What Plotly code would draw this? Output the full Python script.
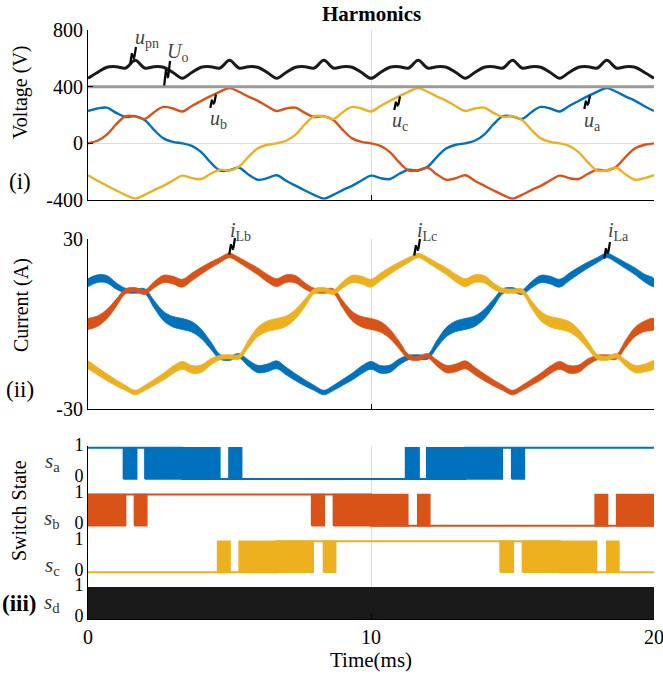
import plotly.graph_objects as go

# ---------------- data ----------------
T = [0, 0.333, 0.667, 1, 1.333, 1.667, 2, 2.333, 2.667, 3, 3.333, 3.667, 4, 4.333, 4.667,
     5, 5.333, 5.667, 6, 6.333, 6.667, 7, 7.333, 7.667, 8, 8.333, 8.667, 9, 9.333, 9.667,
     10, 10.333, 10.667, 11, 11.333, 11.667, 12, 12.333, 12.667, 13, 13.333, 13.667, 14, 14.333, 14.667,
     15, 15.333, 15.667, 16, 16.333, 16.667, 17, 17.333, 17.667, 18, 18.333, 18.667, 19, 19.333, 19.667, 20]

UA = [228, 246, 252, 215, 186, 192, 165, 95, 35, 10,
      0, -18, -62, -135, -192, -190, -172, -220, -257, -246,
      -225, -264, -299, -333, -365, -390, -364, -330, -300, -262,
      -228, -246, -252, -215, -186, -192, -165, -95, -35, -10,
      0, 18, 62, 135, 192, 190, 172, 220, 257, 246,
      225, 264, 299, 333, 365, 390, 364, 330, 300, 262, 228]
UB = [0, 18, 62, 135, 192, 190, 172, 220, 257, 246,
      225, 264, 299, 333, 365, 390, 364, 330, 300, 262,
      228, 246, 252, 215, 186, 192, 165, 95, 35, 10,
      0, -18, -62, -135, -192, -190, -172, -220, -257, -246,
      -225, -264, -299, -333, -365, -390, -364, -330, -300, -262,
      -228, -246, -252, -215, -186, -192, -165, -95, -35, -10, 0]
UC = [-225, -264, -299, -333, -365, -390, -364, -330, -300, -262,
      -228, -246, -252, -215, -186, -192, -165, -95, -35, -10,
      0, 18, 62, 135, 192, 190, 172, 220, 257, 246,
      225, 264, 299, 333, 365, 390, 364, 330, 300, 262,
      228, 246, 252, 215, 186, 192, 165, 95, 35, 10,
      0, -18, -62, -135, -192, -190, -172, -220, -257, -246, -225]
UPN = [459, 500, 537, 541, 532, 586, 532, 541, 537, 500,
       459, 500, 537, 541, 532, 586, 532, 541, 537, 500,
       459, 500, 537, 541, 532, 586, 532, 541, 537, 500,
       459, 500, 537, 541, 532, 586, 532, 541, 537, 500,
       459, 500, 537, 541, 532, 586, 532, 541, 537, 500,
       459, 500, 537, 541, 532, 586, 532, 541, 537, 500, 459]
UO_T = [0, 20]
UO = [400, 400]

IA = [14.6, 16.0, 15.8, 13.4, 11.8, 11.6, 11.6, 7.0, 2.8, 0.8,
      0, -1.0, -3.5, -7.5, -11.6, -12.1, -11.2, -13.8, -15.9, -15.5,
      -14.4, -16.6, -18.8, -20.8, -22.6, -24.2, -22.6, -20.6, -18.6, -16.2,
      -14.6, -16.0, -15.8, -13.4, -11.8, -11.6, -11.6, -7.0, -2.8, -0.8,
      0, 1.0, 3.5, 7.5, 11.6, 12.1, 11.2, 13.8, 15.9, 15.5,
      14.4, 16.6, 18.8, 20.8, 22.6, 24.2, 22.6, 20.6, 18.6, 16.2, 14.6]
IB = [0, 1.0, 3.5, 7.5, 11.6, 12.1, 11.2, 13.8, 15.9, 15.5,
      14.4, 16.6, 18.8, 20.8, 22.6, 24.2, 22.6, 20.6, 18.6, 16.2,
      14.6, 16.0, 15.8, 13.4, 11.8, 11.6, 11.6, 7.0, 2.8, 0.8,
      0, -1.0, -3.5, -7.5, -11.6, -12.1, -11.2, -13.8, -15.9, -15.5,
      -14.4, -16.6, -18.8, -20.8, -22.6, -24.2, -22.6, -20.6, -18.6, -16.2,
      -14.6, -16.0, -15.8, -13.4, -11.8, -11.6, -11.6, -7.0, -2.8, -0.8, 0]
IC = [-14.4, -16.6, -18.8, -20.8, -22.6, -24.2, -22.6, -20.6, -18.6, -16.2,
      -14.6, -16.0, -15.8, -13.4, -11.8, -11.6, -11.6, -7.0, -2.8, -0.8,
      0, 1.0, 3.5, 7.5, 11.6, 12.1, 11.2, 13.8, 15.9, 15.5,
      14.4, 16.6, 18.8, 20.8, 22.6, 24.2, 22.6, 20.6, 18.6, 16.2,
      14.6, 16.0, 15.8, 13.4, 11.8, 11.6, 11.6, 7.0, 2.8, 0.8,
      0, -1.0, -3.5, -7.5, -11.6, -12.1, -11.2, -13.8, -15.9, -15.5, -14.4]
# peak-to-peak ripple width of each current band (A)
RA = [2.8, 2.7, 2.6, 2.2, 1.6, 1.5, 1.7, 2.6, 3.3, 3.7,
      3.9, 3.7, 3.3, 2.6, 1.7, 1.5, 1.6, 2.2, 2.6, 2.7,
      2.8, 2.7, 2.4, 2.1, 1.8, 1.6, 1.8, 2.1, 2.4, 2.7,
      2.8, 2.7, 2.6, 2.2, 1.6, 1.5, 1.7, 2.6, 3.3, 3.7,
      3.9, 3.7, 3.3, 2.6, 1.7, 1.5, 1.6, 2.2, 2.6, 2.7,
      2.8, 2.7, 2.4, 2.1, 1.8, 1.6, 1.8, 2.1, 2.4, 2.7, 2.8]
RB = [3.9, 3.7, 3.3, 2.6, 1.7, 1.5, 1.6, 2.2, 2.6, 2.7,
      2.8, 2.7, 2.4, 2.1, 1.8, 1.6, 1.8, 2.1, 2.4, 2.7,
      2.8, 2.7, 2.6, 2.2, 1.6, 1.5, 1.7, 2.6, 3.3, 3.7,
      3.9, 3.7, 3.3, 2.6, 1.7, 1.5, 1.6, 2.2, 2.6, 2.7,
      2.8, 2.7, 2.4, 2.1, 1.8, 1.6, 1.8, 2.1, 2.4, 2.7,
      2.8, 2.7, 2.6, 2.2, 1.6, 1.5, 1.7, 2.6, 3.3, 3.7, 3.9]
RC = [2.8, 2.7, 2.4, 2.1, 1.8, 1.6, 1.8, 2.1, 2.4, 2.7,
      2.8, 2.7, 2.6, 2.2, 1.6, 1.5, 1.7, 2.6, 3.3, 3.7,
      3.9, 3.7, 3.3, 2.6, 1.7, 1.5, 1.6, 2.2, 2.6, 2.7,
      2.8, 2.7, 2.4, 2.1, 1.8, 1.6, 1.8, 2.1, 2.4, 2.7,
      2.8, 2.7, 2.6, 2.2, 1.6, 1.5, 1.7, 2.6, 3.3, 3.7,
      3.9, 3.7, 3.3, 2.6, 1.7, 1.5, 1.6, 2.2, 2.6, 2.7, 2.8]

# switch states: intervals of dense switching (drawn solid) and steady levels
SA_BLOCKS = [[1.25, 1.72], [2.01, 4.66], [4.98, 5.43], [11.22, 11.70], [11.97, 14.64], [14.97, 15.42]]
SB_BLOCKS = [[0, 1.33], [1.64, 2.08], [7.90, 8.35], [8.67, 11.30], [11.65, 12.08], [17.92, 18.36], [18.68, 20]]
SC_BLOCKS = [[4.58, 5.02], [5.34, 7.96], [8.32, 8.75], [14.56, 15.03], [15.35, 17.97], [18.33, 18.76]]
SD_BLOCKS = [[0, 20]]
SA_T, SA_V = [0, 3.33, 13.33, 20], [1, 0, 1, 1]
SB_T, SB_V = [0, 10, 20], [1, 0, 0]
SC_T, SC_V = [0, 6.67, 16.67, 20], [0, 1, 0, 0]
SD_T, SD_V = [0, 20], [1, 1]
OFFSETS = {"a": 4.5, "b": 3.0, "c": 1.5, "d": 0.0}

X_TICKS = [0, 10, 20]
V_TICKS = [-400, 0, 400, 800]
I_TICKS = [-30, 30]

# ---------------- style ----------------
BLUE, RED, YEL, BLK = "#0072BD", "#D95319", "#EDB120", "#1a1a1a"
GRID = "#dedede"
FONT = "Liberation Serif"
W, H = 663, 677


def px(x):
    return x / W


def py(y):
    return 1 - y / H


XDOM = [px(88), px(654)]

fig = go.Figure()

# panel (i) voltages
for ys, col in [(UA, BLUE), (UB, RED), (UC, YEL)]:
    fig.add_trace(go.Scatter(x=T, y=ys, mode="lines", xaxis="x", yaxis="y",
                             line=dict(color=col, width=2.4, shape="spline", smoothing=1.0),
                             hoverinfo="skip"))
fig.add_trace(go.Scatter(x=T, y=UPN, mode="lines", xaxis="x", yaxis="y",
                         line=dict(color=BLK, width=3, shape="spline", smoothing=1.0), hoverinfo="skip"))
fig.add_trace(go.Scatter(x=UO_T, y=UO, mode="lines", xaxis="x", yaxis="y",
                         line=dict(color="#9a9a9a", width=3), hoverinfo="skip"))

# panel (ii) currents as ripple bands
for c, r, col in [(IA, RA, BLUE), (IB, RB, RED), (IC, RC, YEL)]:
    up = [a + b / 2 for a, b in zip(c, r)]
    lo = [a - b / 2 for a, b in zip(c, r)]
    fig.add_trace(go.Scatter(x=T + T[::-1], y=up + lo[::-1], mode="lines", fill="toself",
                             fillcolor=col, xaxis="x2", yaxis="y2",
                             line=dict(color=col, width=0.8, shape="spline", smoothing=1.0),
                             hoverinfo="skip"))

# panel (iii) switch states
for key, blocks, st, sv, col in [("a", SA_BLOCKS, SA_T, SA_V, BLUE), ("b", SB_BLOCKS, SB_T, SB_V, RED),
                                 ("c", SC_BLOCKS, SC_T, SC_V, YEL), ("d", SD_BLOCKS, SD_T, SD_V, BLK)]:
    off = OFFSETS[key]
    fig.add_trace(go.Scatter(x=st, y=[v + off for v in sv], mode="lines", xaxis="x3", yaxis="y3",
                             line=dict(color=col, width=2, shape="hv"), hoverinfo="skip"))
    bx, by = [], []
    for s, e in blocks:
        bx += [s, e, e, s, s, None]
        by += [off, off, off + 1, off + 1, off, None]
    fig.add_trace(go.Scatter(x=bx, y=by, mode="lines", fill="toself", fillcolor=col,
                             xaxis="x3", yaxis="y3", line=dict(color=col, width=1.5),
                             hoverinfo="skip"))

axis_common = dict(showline=True, linecolor="#000000", linewidth=1, ticks="inside", ticklen=5,
                   tickcolor="#000000", showgrid=True, gridcolor=GRID, gridwidth=1, zeroline=False,
                   automargin=False, ticklabeloverflow="allow",
                   tickfont=dict(family=FONT, size=20, color="#000000"))

fig.update_layout(
    width=W, height=H, margin=dict(l=0, r=0, t=0, b=0, autoexpand=False),
    paper_bgcolor="white", plot_bgcolor="white", showlegend=False,
    font=dict(family=FONT, color="#000000"),
    xaxis=dict(domain=XDOM, anchor="y", range=[0, 20], tickvals=X_TICKS, showticklabels=False, **axis_common),
    yaxis=dict(domain=[py(200), py(30)], anchor="x", range=[-400, 800], tickvals=V_TICKS,
               ticktext=["-400", "0", "400", "800"], **axis_common),
    xaxis2=dict(domain=XDOM, anchor="y2", range=[0, 20], tickvals=X_TICKS, showticklabels=False, **axis_common),
    yaxis2=dict(domain=[py(409), py(239)], anchor="x2", range=[-30, 30], tickvals=I_TICKS,
                ticktext=["-30", "30"], **axis_common),
    xaxis3=dict(domain=XDOM, anchor="y3", range=[0, 20], tickvals=X_TICKS, **axis_common),
    yaxis3=dict(domain=[py(619), py(446)], anchor="x3", range=[0, 5.56],
                tickvals=[0, 1, 1.5, 2.5, 3, 4, 4.5, 5.5],
                ticktext=["0", "1", "0", "1", "0", "1", "0", "1"], automargin=False,
                ticklabelshift=-3, ticklabeloverflow="allow",
                showline=True, linecolor="#000000", linewidth=1, ticks="", showgrid=False, zeroline=False,
                tickfont=dict(family=FONT, size=18, color="#000000")),
)

ann = []


def label(x, y, text, size=20, bold=False, angle=0, color="#000000"):
    t = "<b>%s</b>" % text if bold else text
    ann.append(dict(x=px(x), y=py(y), xref="paper", yref="paper", text=t, showarrow=False,
                    textangle=angle, font=dict(family=FONT, size=size, color=color),
                    xanchor="center", yanchor="middle"))


label(371, 14, "Harmonics", size=21, bold=True)
label(21, 92, "Voltage (V)", angle=-90)
label(20, 182, "(i)", size=23)
label(21, 305, "Current (A)", angle=-90)
label(20, 389, "(ii)", size=23)
label(19, 511, "Switch State", angle=-90)
label(19, 603, "(iii)", size=23, bold=True)
label(371, 660, "Time(ms)", size=21)
for txt, y in [("<i>s</i><sub>a</sub>", 462), ("<i>s</i><sub>b</sub>", 519),
               ("<i>s</i><sub>c</sub>", 566), ("<i>s</i><sub>d</sub>", 603)]:
    label(52, y, txt, size=21, color="#333333")

GRAY = "#444444"
for txt, x, y in [("<i>u</i><sub>pn</sub>", 147, 38), ("<i>U</i><sub>o</sub>", 177, 52),
                  ("<i>u</i><sub>b</sub>", 218, 120), ("<i>u</i><sub>c</sub>", 400, 122),
                  ("<i>u</i><sub>a</sub>", 592, 122), ("<i>i</i><sub>Lb</sub>", 240, 231),
                  ("<i>i</i><sub>Lc</sub>", 427, 231), ("<i>i</i><sub>La</sub>", 618, 231)]:
    label(x, y, txt, size=20, color=GRAY)

# small zig-zag leader marks (pixel positions: centre x, centre y, height)
for cx, cy, h in [(133, 56, 18), (167, 74, 26), (213, 102, 15), (397, 104, 15), (587, 103, 15),
                  (232, 247, 18), (417, 248, 18), (607, 251, 18)]:
    pts = [(cx - 3, cy + h / 2), (cx - 1, cy - h / 6), (cx + 1, cy + h / 6), (cx + 3, cy - h / 2)]
    for (x0, y0), (x1, y1) in zip(pts[:-1], pts[1:]):
        ann.append(dict(x=px(x1), y=py(y1), xref="paper", yref="paper", text="", showarrow=True,
                        ax=x0 - x1, ay=y0 - y1, arrowhead=0, arrowwidth=2.2, arrowcolor="#000000",
                        standoff=0, startstandoff=0))

fig.update_layout(annotations=ann)
fig.write_html("out.html", config={"displayModeBar": False},
               post_script="document.body.style.margin='0px';"
                           "document.body.style.overflow='hidden';")
